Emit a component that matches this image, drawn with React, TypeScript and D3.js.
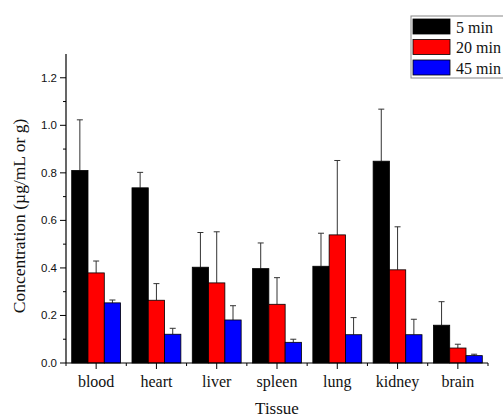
import * as d3 from "d3"

const tissues = ["blood", "heart", "liver", "spleen", "lung", "kidney", "brain"]
const seriesNames = ["5 min", "20 min", "45 min"]
const seriesColors = ["#000000", "#ff0000", "#0000ff"]

// mean values per series, in tissue order
const min5 = [0.81, 0.737, 0.403, 0.397, 0.407, 0.849, 0.159]
const min20 = [0.379, 0.264, 0.337, 0.247, 0.539, 0.392, 0.063]
const min45 = [0.253, 0.121, 0.181, 0.087, 0.119, 0.119, 0.031]

// standard deviations (upper error bar only)
const err5 = [0.213, 0.065, 0.146, 0.108, 0.139, 0.219, 0.099]
const err20 = [0.05, 0.07, 0.215, 0.112, 0.313, 0.181, 0.016]
const err45 = [0.012, 0.025, 0.06, 0.013, 0.072, 0.065, 0.006]

const yMajor = [0, 0.2, 0.4, 0.6, 0.8, 1.0, 1.2]
const yMinor = [0.1, 0.3, 0.5, 0.7, 0.9, 1.1]

export default function App() {
  const width = 503
  const height = 417
  const margin = { left: 66, right: 15, top: 54, bottom: 54 }

  const values = [min5, min20, min45]
  const errors = [err5, err20, err45]

  const x = d3
    .scaleBand<string>()
    .domain(tissues)
    .range([margin.left, width - margin.right])
    .padding(0)

  const xs = d3
    .scaleBand<number>()
    .domain([0, 1, 2])
    .range([0, x.bandwidth()])
    .paddingInner(0)
    .paddingOuter(0.35)

  const y = d3
    .scaleLinear()
    .domain([0, 1.3])
    .range([height - margin.bottom, margin.top])

  const y0 = y(0)
  const serif = "'Liberation Serif', 'Times New Roman', serif"
  const sans = "'Liberation Sans', Arial, sans-serif"

  return (
    <svg
      width={width}
      height={height}
      style={{ position: "absolute", left: 0, top: 0, background: "#fff" }}
    >
      {/* bars */}
      {tissues.map((t, i) => (
        <g key={t}>
          {values.map((vals, s) => {
            const bx = (x(t) ?? 0) + (xs(s) ?? 0)
            const bw = xs.bandwidth()
            const top = y(vals[i])
            const errTop = y(vals[i] + errors[s][i])
            const cx = bx + bw / 2
            return (
              <g key={s}>
                <line x1={cx} x2={cx} y1={top} y2={errTop} stroke="#333" strokeWidth={1} />
                <line x1={cx - 3} x2={cx + 3} y1={errTop} y2={errTop} stroke="#333" strokeWidth={1} />
                <rect
                  x={bx}
                  y={top}
                  width={bw}
                  height={y0 - top}
                  fill={seriesColors[s]}
                  stroke="#000"
                  strokeWidth={0.8}
                />
              </g>
            )
          })}
        </g>
      ))}

      {/* y axis */}
      <line x1={margin.left} x2={margin.left} y1={margin.top} y2={y0} stroke="#000" strokeWidth={1.2} />
      {yMajor.map((v) => (
        <g key={v}>
          <line x1={margin.left - 6} x2={margin.left} y1={y(v)} y2={y(v)} stroke="#000" />
          <text
            x={margin.left - 9}
            y={y(v)}
            dy="0.35em"
            textAnchor="end"
            fontFamily={sans}
            fontSize={11.5}
            fill="#111"
          >
            {v.toFixed(1)}
          </text>
        </g>
      ))}
      {yMinor.map((v) => (
        <line key={v} x1={margin.left - 3} x2={margin.left} y1={y(v)} y2={y(v)} stroke="#000" />
      ))}

      {/* x axis */}
      <line x1={margin.left} x2={width - margin.right} y1={y0} y2={y0} stroke="#000" strokeWidth={1.2} />
      {tissues.map((t) => {
        const cx = (x(t) ?? 0) + x.bandwidth() / 2
        return (
          <g key={t}>
            <line x1={cx} x2={cx} y1={y0} y2={y0 + 6} stroke="#000" />
            <text x={cx} y={y0 + 24} textAnchor="middle" fontFamily={serif} fontSize={16} fill="#111">
              {t}
            </text>
          </g>
        )
      })}
      {tissues.map((t) => (
        <line key={t} x1={x(t)} x2={x(t)} y1={y0} y2={y0 + 3} stroke="#000" />
      ))}
      <line
        x1={width - margin.right}
        x2={width - margin.right}
        y1={y0}
        y2={y0 + 3}
        stroke="#000"
      />

      {/* axis titles */}
      <text
        x={(margin.left + width - margin.right) / 2}
        y={414}
        textAnchor="middle"
        fontFamily={serif}
        fontSize={17}
        fill="#111"
      >
        Tissue
      </text>
      <text
        transform={`translate(25, 216) rotate(-90)`}
        textAnchor="middle"
        fontFamily={serif}
        fontSize={17.5}
        fill="#111"
      >
        Concentration (µg/mL or g)
      </text>

      {/* legend */}
      <rect x={411} y={16} width={100} height={62} fill="#fff" stroke="#888" strokeWidth={1} />
      {seriesNames.map((name, s) => (
        <g key={name}>
          <rect
            x={413}
            y={19 + s * 20.5}
            width={37}
            height={15}
            fill={seriesColors[s]}
            stroke="#000"
            strokeWidth={0.8}
          />
          <text x={456} y={27 + s * 20.5} dy="0.35em" fontFamily={serif} fontSize={16} fill="#111">
            {name}
          </text>
        </g>
      ))}
    </svg>
  )
}
